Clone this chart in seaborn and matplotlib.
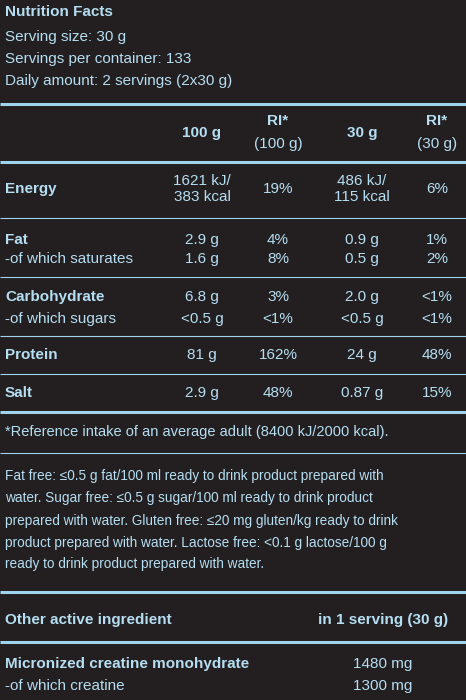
import matplotlib.pyplot as plt
import seaborn as sns

sns.set_theme(style='white')
plt.rcParams['font.family'] = ['Liberation Sans', 'DejaVu Sans']

BG = '#231f20'
FG = '#b5def2'
LINE = '#9fd3ee'

intro = ['Serving size: 30 g', 'Servings per container: 133', 'Daily amount: 2 servings (2x30 g)']
col_heads = ['100 g', 'RI*\n(100 g)', '30 g', 'RI*\n(30 g)']
nutrients = ['Energy', 'Fat', '-of which saturates', 'Carbohydrate', '-of which sugars', 'Protein', 'Salt']
bold_nutrients = {'Energy', 'Fat', 'Carbohydrate', 'Protein', 'Salt'}
per100 = ['1621 kJ/\n383 kcal', '2.9 g', '1.6 g', '6.8 g', '<0.5 g', '81 g', '2.9 g']
ri100 = ['19%', '4%', '8%', '3%', '<1%', '162%', '48%']
per30 = ['486 kJ/\n115 kcal', '0.9 g', '0.5 g', '2.0 g', '<0.5 g', '24 g', '0.87 g']
ri30 = ['6%', '1%', '2%', '<1%', '<1%', '48%', '15%']
footnote = '*Reference intake of an average adult (8400 kJ/2000 kcal).'
claims = ['Fat free: \u22640.5 g fat/100 ml ready to drink product prepared with',
          'water. Sugar free: \u22640.5 g sugar/100 ml ready to drink product',
          'prepared with water. Gluten free: \u226420 mg gluten/kg ready to drink',
          'product prepared with water. Lactose free: <0.1 g lactose/100 g',
          'ready to drink product prepared with water.']
active = ['Micronized creatine monohydrate', '-of which creatine']
active_amt = ['1480 mg', '1300 mg']

fig = plt.figure(figsize=(4.66, 7), dpi=100, facecolor=BG)
ax = fig.add_axes([0, 0, 1, 1])
ax.set_facecolor(BG)
ax.set_xlim(0, 466)
ax.set_ylim(700, 0)
ax.axis('off')

FS = 11
def t(x, y, s, ha='left', bold=False, fs=FS):
    ax.text(x, y, s, ha=ha, va='center', color=FG, fontsize=fs,
            fontweight='bold' if bold else 'normal', linespacing=1.25)

def hline(y, lw):
    ax.plot([0, 466], [y, y], color=LINE, lw=lw, solid_capstyle='butt')

t(5, 12, 'Nutrition Facts', bold=True)
for y, s in zip([37, 59, 81], intro):
    t(5, y, s)

hline(104, 2.2)
cols = [202, 278, 362, 437]
for x, s in zip(cols, col_heads):
    if '\n' in s:
        a, b = s.split('\n')
        t(x, 121, a, ha='center', bold=True)
        t(x, 144, b, ha='center')
    else:
        t(x, 133, s, ha='center', bold=True)
hline(162, 2.2)

rows_y = [189, 240, 259, 297, 319, 355, 393]
for i, y in enumerate(rows_y):
    t(5, y, nutrients[i], bold=nutrients[i] in bold_nutrients)
    for x, vals in zip(cols, [per100, ri100, per30, ri30]):
        t(x, y, vals[i], ha='center')
for y in [218, 277, 336, 374]:
    hline(y, 0.8)
hline(412, 2.2)

t(5, 432, footnote, fs=10.5)
hline(453, 0.8)
for y, s in zip([476, 498, 521, 543, 564], claims):
    t(5, y, s, fs=9.8)

hline(592, 2.2)
t(5, 620, 'Other active ingredient', bold=True)
t(383, 620, 'in 1 serving (30 g)', ha='center', bold=True)
hline(642, 2.2)
for y, s, a in zip([664, 686], active, active_amt):
    t(5, y, s, bold=not s.startswith('-'))
    t(383, y, a, ha='center')

fig.savefig('out.png', dpi=100, facecolor=BG)
